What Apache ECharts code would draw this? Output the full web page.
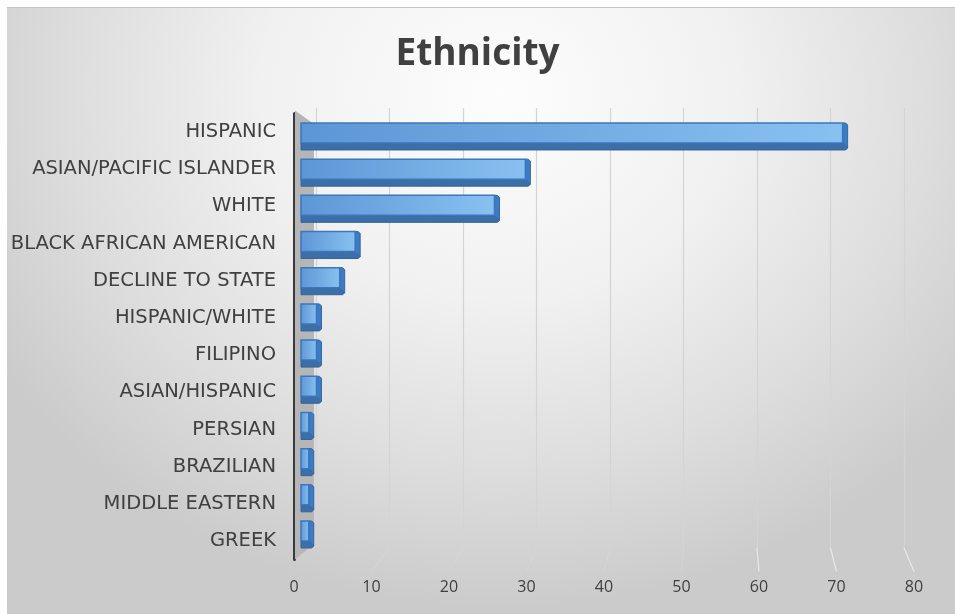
<!DOCTYPE html>
<html><head><meta charset="utf-8">
<script src="https://cdn.jsdelivr.net/npm/echarts@6/dist/echarts.min.js"></script>
<style>
html,body{margin:0;padding:0;background:#fff;}
#bg{position:absolute;left:7px;top:7px;width:948px;height:607px;border-top:1px solid #c4c4c4;
background: radial-gradient(ellipse 62% 85% at 52% 14%, #fdfdfd 0%, #f1f1f1 40%, #dedede 72%, #cbcbcb 100%);}
#main{position:absolute;left:0;top:0;width:955px;height:614px;}
</style></head><body><div id="bg"></div><div id="main"></div>
<script>
const categories = ['HISPANIC','ASIAN/PACIFIC ISLANDER','WHITE','BLACK AFRICAN AMERICAN','DECLINE TO STATE','HISPANIC/WHITE','FILIPINO','ASIAN/HISPANIC','PERSIAN','BRAZILIAN','MIDDLE EASTERN','GREEK'];
const values = [70, 29, 25, 7, 5, 2, 2, 2, 1, 1, 1, 1];
const xTicks = [0, 10, 20, 30, 40, 50, 60, 70, 80];
const xMin = 0, xMax = 80, xStep = 10;

const chart = echarts.init(document.getElementById('main'), null, {renderer:'canvas'});
const FONT = '"Open Sans", sans-serif';
const LFONT = '"DejaVu Sans", sans-serif';
const TXT = '#404040';

function renderBar(params, api){
  const v = api.value(0), c = api.value(1);
  const p0 = api.coord([0, c]), p1 = api.coord([v, c]);
  const x0 = p0[0], x1 = p1[0], yc = p0[1];
  const fh = 20, bs = 7, dx = 5;
  const yt = yc - (fh + bs) / 2;
  const yb = yt + fh;
  const grad = new echarts.graphic.LinearGradient(0, 0, 1, 0, [
    {offset:0, color:'#5d96d5'}, {offset:1, color:'#88c1f0'}]);
  return {type:'group', children:[
    {type:'polygon', shape:{points:[[x0, yb],[x1, yb],[x1+dx, yb+bs-2],[x1+dx-2, yb+bs],[x0, yb+bs]]},
      style:{fill:'#3c6ea8', stroke:'#33649c', lineWidth:1}},
    {type:'polygon', shape:{points:[[x1, yt],[x1+dx-2, yt],[x1+dx, yt+2],[x1+dx, yb+bs-2],[x1, yb]]},
      style:{fill:'#3d7bc2', stroke:'#3168a8', lineWidth:1}},
    {type:'rect', shape:{x:x0, y:yt, width:x1-x0, height:fh},
      style:{fill:grad, stroke:'#3b77bc', lineWidth:1.5}}
  ]};
}

const option = {
  animation:false,
  backgroundColor:'transparent',
  title:{text:'Ethnicity', left:'center', top:31,
    textStyle:{fontFamily:FONT, fontWeight:'bold', fontSize:37, color:TXT}},
  grid:[
    {left:301, right:35, top:118.4, bottom:61.4},      // bars
    {left:294, right:41, top:113.4, bottom:54.4},      // labels (front plane)
    {left:316, right:51, top:108, bottom:66}           // back wall
  ],
  xAxis:[
    {gridIndex:0, type:'value', min:xMin, max:xMax, interval:xStep, show:false},
    {gridIndex:1, type:'value', min:xMin, max:xMax, interval:xStep,
      axisLine:{show:false}, axisTick:{show:false}, splitLine:{show:false},
      axisLabel:{fontFamily:FONT, fontSize:16, color:TXT, margin:20,
        formatter:(v)=> xTicks.includes(v) ? String(v) : ''}},
    {gridIndex:2, type:'value', min:xMin, max:xMax, interval:xStep,
      axisLine:{show:false}, axisTick:{show:false}, axisLabel:{show:false},
      splitLine:{show:true, lineStyle:{color:'#d4d4d4', width:1.2}}}
  ],
  yAxis:[
    {gridIndex:0, type:'category', data:categories, inverse:true, show:false},
    {gridIndex:1, type:'category', data:categories, inverse:true,
      axisLine:{show:true, lineStyle:{color:'#3a3a3a', width:3}}, axisTick:{show:false},
      axisLabel:{fontFamily:LFONT, fontSize:19.5, color:TXT, margin:18}},
    {gridIndex:2, type:'category', data:categories, inverse:true, show:false}
  ],
  series:[
    {type:'custom', xAxisIndex:0, yAxisIndex:0, renderItem:renderBar,
      data: values.map((v,i)=>[v,i]), z:10}
  ]
};
chart.setOption(option);

// wall and floor lines derived from axes
const gBack = chart.getModel().getComponent('grid', 2).coordinateSystem.getRect();
const gFront = chart.getModel().getComponent('grid', 1).coordinateSystem.getRect();
const graphics = [];
const bx0 = chart.convertToPixel({xAxisIndex:2}, 0);
const fx0 = chart.convertToPixel({xAxisIndex:1}, 0);
graphics.push({type:'polygon', z:1, shape:{points:[[fx0+1, gFront.y-3],[bx0-2, gBack.y+16],[bx0-2, gBack.y+gBack.height-4],[fx0+1, gFront.y+gFront.height]]},
  style:{fill:'#b6b6b6'}});
xTicks.filter(t=>t>0).forEach(t=>{
  const bx = chart.convertToPixel({xAxisIndex:2}, t);
  const fx = chart.convertToPixel({xAxisIndex:1}, t);
  graphics.push({type:'line', z:0, shape:{x1:bx, y1:gBack.y+gBack.height, x2:fx, y2:gFront.y+gFront.height+12},
    style:{stroke: t >= 60 ? '#e8e8e8' : '#dadada', lineWidth:1.2, opacity: t >= 60 ? 1 : 0.5}});
});
chart.setOption({graphic:graphics});
</script></body></html>
